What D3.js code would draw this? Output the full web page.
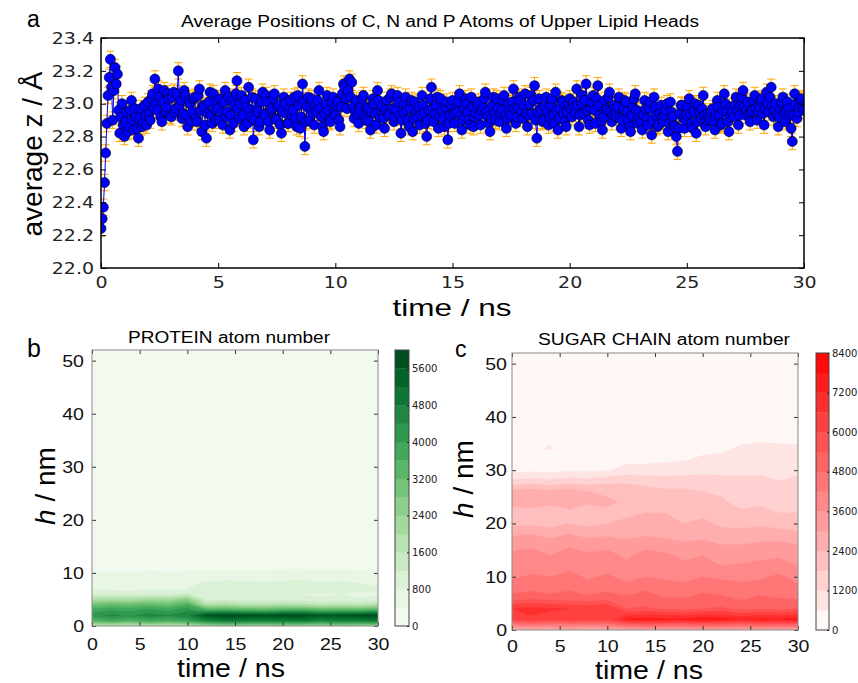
<!DOCTYPE html>
<html>
<head>
<meta charset="utf-8">
<script src="https://cdn.jsdelivr.net/npm/d3@7"></script>
<style>
  body { margin: 0; background: #fff; }
  svg { display: block; }
</style>
</head>
<body>
<svg id="fig" width="858" height="683"></svg>
<script>
// ---------- data ----------
// panel a: mean z of the head atoms, one sample every 0.05 ns (0 .. 30 ns), one row per ns
const sampleStep = 0.05;
const zMean = [
  22.24, 22.30, 22.37, 22.52, 22.70, 22.88, 23.05, 23.16, 23.27, 23.10, 22.90, 23.08, 23.22, 23.12, 23.18, 22.96, 22.82, 22.92, 23.00, 22.87,
  22.80, 22.89, 22.95, 22.83, 22.86, 22.96, 23.02, 22.90, 22.84, 22.97, 22.92, 22.85, 22.79, 22.91, 22.97, 22.86, 22.88, 22.99, 22.93, 22.87,
  23.01, 22.94, 22.90, 23.03, 23.06, 22.97, 23.15, 23.00, 22.96, 23.09, 23.04, 22.92, 22.89, 23.01, 23.08, 22.95, 22.98, 23.06, 23.03, 22.93,
  22.92, 23.04, 23.07, 22.95, 22.97, 23.06, 23.20, 22.99, 23.02, 22.91, 22.94, 23.08, 23.05, 22.93, 22.86, 23.02, 23.00, 22.89, 22.95, 23.03,
  23.04, 22.91, 22.89, 23.05, 23.09, 22.96, 22.83, 22.99, 22.98, 22.87, 22.79, 22.94, 23.01, 23.07, 22.93, 22.88, 23.06, 22.97, 22.90, 23.02,
  22.97, 22.90, 23.03, 22.95, 22.87, 23.01, 23.08, 22.92, 22.95, 23.04, 22.84, 22.93, 23.02, 22.88, 22.99, 23.06, 23.14, 22.97, 22.91, 23.00,
  23.05, 22.93, 22.86, 23.02, 22.98, 22.88, 23.10, 22.96, 22.92, 23.04, 22.78, 22.90, 23.03, 22.97, 22.95, 22.86, 22.89, 23.01, 23.07, 22.94,
  22.93, 23.05, 23.01, 22.89, 22.84, 22.96, 22.97, 23.03, 23.06, 22.91, 22.90, 22.98, 22.99, 22.87, 22.82, 22.95, 23.04, 23.00, 22.94, 22.88,
  22.88, 22.97, 23.02, 22.93, 22.96, 23.04, 22.91, 22.86, 23.05, 22.99, 22.85, 22.92, 23.12, 23.01, 22.74, 22.89, 22.98, 23.04, 22.90, 22.96,
  23.03, 22.94, 22.87, 22.99, 22.95, 23.02, 23.08, 22.97, 22.92, 22.86, 22.83, 22.94, 23.00, 23.05, 22.96, 22.90, 22.89, 23.01, 23.04, 22.95,
  22.93, 22.99, 23.01, 22.90, 22.86, 22.98, 23.06, 23.12, 23.10, 23.03, 22.97, 23.08, 23.15, 23.04, 23.13, 22.98, 22.91, 22.95, 23.02, 22.93,
  22.88, 22.96, 22.99, 23.03, 23.05, 22.92, 22.90, 22.98, 22.97, 22.89, 22.84, 22.95, 23.03, 23.00, 22.94, 22.87, 23.08, 23.02, 22.92, 22.96,
  22.98, 22.91, 22.85, 22.96, 23.02, 22.94, 22.93, 23.04, 23.06, 22.97, 22.89, 22.92, 22.96, 23.05, 23.01, 22.93, 22.82, 22.90, 22.95, 23.00,
  23.04, 22.96, 22.90, 22.86, 22.97, 23.02, 22.83, 22.91, 23.01, 22.95, 22.92, 22.98, 22.87, 22.93, 23.05, 22.99, 22.94, 22.88, 22.80, 22.90,
  22.96, 23.03, 23.10, 22.97, 22.89, 22.94, 22.99, 23.04, 22.85, 22.92, 23.03, 22.96, 22.91, 22.86, 22.98, 23.01, 22.78, 22.88, 22.93, 22.99,
  23.02, 22.94, 22.88, 22.97, 22.95, 23.01, 23.06, 22.93, 22.84, 22.90, 22.97, 23.03, 23.00, 22.95, 22.90, 22.87, 23.04, 22.98, 22.86, 22.92,
  22.94, 22.99, 23.01, 22.93, 22.87, 22.96, 22.98, 23.03, 23.07, 22.95, 22.92, 22.88, 22.83, 22.91, 22.99, 23.04, 22.95, 22.90, 23.03, 22.97,
  22.89, 22.94, 22.96, 23.02, 23.05, 22.93, 22.85, 22.91, 23.00, 22.96, 22.93, 23.01, 23.09, 22.97, 22.88, 22.92, 22.97, 23.04, 23.02, 22.95,
  22.91, 22.99, 23.06, 22.94, 22.86, 22.93, 23.00, 23.05, 22.94, 23.02, 23.11, 22.90, 22.79, 22.95, 23.03, 22.97, 22.96, 22.89, 22.90, 22.98,
  23.04, 22.95, 22.87, 22.92, 22.99, 23.03, 22.93, 22.88, 23.07, 22.96, 22.84, 22.91, 22.97, 23.02, 23.01, 22.94, 22.89, 22.86, 22.95, 23.00,
  23.03, 22.97, 22.92, 23.01, 22.98, 22.94, 23.09, 22.99, 22.86, 22.93, 23.00, 23.05, 22.94, 23.02, 23.12, 22.96, 22.90, 22.87, 22.97, 23.01,
  23.05, 22.96, 22.88, 23.03, 23.11, 22.99, 22.93, 22.89, 22.84, 22.92, 23.02, 22.97, 22.96, 23.04, 23.07, 22.95, 22.89, 22.93, 22.99, 22.94,
  22.92, 22.98, 23.04, 22.91, 22.85, 22.90, 22.97, 23.02, 23.01, 22.95, 22.90, 22.86, 22.83, 22.93, 22.98, 23.03, 23.06, 22.96, 22.88, 22.92,
  22.95, 22.89, 22.84, 22.93, 23.02, 22.97, 22.91, 22.87, 22.97, 23.01, 22.81, 22.90, 23.04, 22.98, 22.93, 22.86, 22.87, 22.94, 22.99, 22.92,
  22.89, 22.93, 22.96, 23.00, 22.83, 22.88, 23.01, 22.95, 22.92, 22.87, 22.86, 22.80, 22.71, 22.85, 22.94, 22.99, 22.99, 22.91, 22.85, 22.90,
  22.93, 22.98, 23.03, 22.94, 22.88, 22.85, 22.95, 23.00, 22.82, 22.89, 22.99, 22.95, 22.91, 22.97, 23.05, 22.93, 22.86, 22.90, 22.94, 22.92,
  22.90, 22.95, 22.97, 22.89, 22.84, 22.93, 23.02, 22.98, 22.93, 22.87, 22.88, 22.96, 23.06, 23.00, 22.95, 22.89, 22.83, 22.92, 22.98, 22.95,
  22.92, 22.99, 23.04, 22.96, 22.87, 22.93, 22.99, 23.04, 23.08, 22.98, 22.93, 22.96, 23.01, 22.94, 22.89, 22.95, 22.96, 23.02, 23.05, 22.97,
  22.90, 22.95, 22.98, 23.02, 23.03, 22.94, 22.87, 22.97, 23.07, 23.00, 22.95, 23.04, 23.10, 22.99, 22.92, 22.96, 23.00, 22.93, 22.86, 22.92,
  22.97, 23.01, 23.04, 22.95, 22.89, 22.96, 23.01, 22.97, 22.93, 22.85, 22.77, 22.93, 23.06, 23.00, 22.91, 22.95, 22.98, 23.02, 23.03, 22.99,
  22.96
];
const zErr = 0.05;
const zTicks = [22.0, 22.2, 22.4, 22.6, 22.8, 23.0, 23.2, 23.4];
const timeTicks = [0, 5, 10, 15, 20, 25, 30];
const hTicks = [0, 10, 20, 30, 40, 50];

// panel b: protein atom number, columns = time (ns), rows = h (nm)
const proteinTimes = [0, 2, 4, 6, 8, 10, 12, 14, 16, 18, 20, 22, 24, 26, 28, 30];
const proteinHeights = [0, 1, 2, 3, 4, 5, 6, 7, 8, 9, 10, 11, 12];
const proteinCounts = [
  [1500, 1600, 1500, 1700, 1600, 1700, 2200, 2400, 2300, 2200, 2400, 2300, 2200, 2400, 2300, 2200],
  [3400, 3700, 3500, 3800, 3600, 3900, 4600, 4900, 4800, 4700, 4800, 4900, 4600, 4800, 4700, 4900],
  [4200, 4500, 4300, 4600, 4400, 4700, 5700, 5900, 5800, 5700, 5900, 5800, 5600, 5700, 5800, 5900],
  [3800, 4000, 3900, 4100, 3900, 4300, 3600, 3700, 3500, 3400, 3600, 3700, 3400, 3500, 3400, 3600],
  [3000, 3200, 3100, 3300, 3100, 3600, 1900, 2000, 1800, 1700, 1900, 1800, 1600, 1700, 1600, 1800],
  [1900, 2100, 2000, 2200, 2100, 2600, 1000, 1100,  950,  950, 1000,  950,  850,  950,  850,  950],
  [1000, 1050,  950, 1100, 1000, 1300,  800,  900,  800,  850,  850,  800,  750,  800,  700,  750],
  [ 700,  720,  680,  750,  700,  800, 1000, 1100, 1050, 1000, 1050, 1000,  950, 1000,  900,  850],
  [ 600,  620,  580,  640,  600,  650,  900, 1000,  950,  900,  950, 1000,  850,  950,  800,  750],
  [ 520,  540,  500,  560,  520,  560,  600,  650,  620,  600,  650,  700,  620,  650,  600,  550],
  [ 440,  460,  430,  470,  440,  470,  480,  500,  480,  470,  520,  540,  500,  520,  480,  450],
  [ 250,  280,  260,  300,  270,  300,  300,  320,  300,  290,  330,  350,  320,  330,  300,  270],
  [   0,    0,    0,    0,    0,    0,    0,    0,    0,    0,    0,    0,    0,    0,    0,    0]
];
const proteinLevels = [0, 400, 800, 1200, 1600, 2000, 2400, 2800, 3200, 3600, 4000, 4400, 4800, 5200, 5600, 6000];
const proteinBarTicks = [0, 800, 1600, 2400, 3200, 4000, 4800, 5600];

// panel c: sugar chain atom number
const sugarTimes = [0, 2, 4, 6, 8, 10, 12, 14, 16, 18, 20, 22, 24, 26, 28, 30];
const sugarHeights = [0, 2, 4, 6, 8, 10, 12, 14, 16, 18, 20, 22, 24, 26, 28, 30, 32, 34, 36, 38, 40];
const sugarCounts = [
  [2400, 2600, 2500, 2700, 2500, 2600, 2800, 3000, 2900, 2800, 3000, 2900, 2800, 3000, 2900, 2800],
  [6200, 6500, 6300, 6400, 6200, 6300, 7300, 7500, 7400, 7300, 7600, 7500, 7200, 7400, 7300, 7600],
  [6600, 6800, 6700, 6600, 6500, 6600, 5400, 5500, 5300, 5200, 5400, 5500, 5200, 5300, 5200, 5400],
  [5000, 5200, 5100, 5000, 4900, 5100, 4900, 5000, 4800, 4800, 5000, 4900, 4700, 4900, 4800, 4700],
  [4500, 4600, 4400, 4700, 4500, 4600, 4400, 4700, 4500, 4400, 4600, 4500, 4400, 4500, 4600, 4300],
  [4100, 4300, 4200, 4400, 4100, 4300, 4000, 4200, 4100, 4000, 4200, 4100, 4000, 4100, 4300, 4000],
  [3800, 3900, 3700, 4000, 3800, 3900, 3700, 3900, 3800, 3700, 3800, 3600, 3700, 3800, 3900, 3600],
  [3700, 3800, 3600, 3900, 3700, 3800, 3500, 3800, 3700, 3500, 3600, 3400, 3300, 3400, 3500, 3300],
  [3400, 3500, 3300, 3500, 3300, 3400, 3200, 3400, 3300, 3100, 3200, 3000, 3000, 3100, 3200, 3000],
  [2900, 3000, 2800, 3000, 2800, 2900, 2800, 2900, 2800, 2700, 2800, 2600, 2600, 2700, 2600, 2500],
  [2200, 2300, 2100, 2400, 2200, 2400, 2500, 2600, 2500, 2400, 2500, 2300, 2200, 2300, 2200, 2100],
  [2000, 2100, 1900, 2200, 2000, 2300, 2300, 2400, 2400, 2300, 2300, 2100, 1900, 2000, 1800, 1800],
  [2700, 2800, 2600, 2800, 2500, 2500, 2300, 2200, 2200, 2100, 2100, 1900, 1600, 1700, 1500, 1600],
  [2600, 2700, 2500, 2700, 2400, 2300, 2100, 2000, 1900, 1900, 1800, 1700, 1500, 1500, 1400, 1500],
  [1300, 1400, 1300, 1500, 1400, 1600, 1700, 1600, 1500, 1500, 1500, 1400, 1300, 1300, 1200, 1300],
  [ 400,  450,  420,  500,  480,  550,  800,  800,  850,  900, 1000, 1000, 1100, 1100, 1000, 1100],
  [ 200,  250,  300,  250,  300,  350,  450,  450,  500,  550,  700,  750,  850,  900,  900,  850],
  [ 150,  500,  650,  200,  350,  600,  350,  300,  350,  400,  450,  500,  700,  750,  750,  700],
  [ 100,  400,  500,  150,  250,  450,  200,  200,  200,  250,  250,  300,  450,  500,  450,  450],
  [  50,  100,  100,   50,  100,  100,   50,   50,   50,  100,  100,  100,  150,  200,  150,  150],
  [   0,    0,    0,    0,    0,    0,    0,    0,    0,    0,    0,    0,    0,    0,    0,    0]
];
const sugarLevels = [0, 600, 1200, 1800, 2400, 3000, 3600, 4200, 4800, 5400, 6000, 6600, 7200, 7800, 8400];
const sugarBarTicks = [0, 1200, 2400, 3600, 4800, 6000, 7200, 8400];

// ---------- helpers ----------
const svg = d3.select("#fig");
const sansA = "'Liberation Sans', Arial, sans-serif";
const sansB = "'DejaVu Sans', sans-serif";
const hStretch = 1.15; // picture is a bit wider than tall

function stretch(sel, k = hStretch) {
  sel.each(function() {
    const w = this.getComputedTextLength();
    d3.select(this).attr("textLength", w * k).attr("lengthAdjust", "spacingAndGlyphs");
  });
}

function label(txt, x, y, size, opts = {}) {
  const t = svg.append("text")
    .attr("x", x).attr("y", y)
    .attr("font-family", opts.family || sansA)
    .attr("font-size", size)
    .attr("text-anchor", opts.anchor || "start")
    .text(txt);
  if (opts.len) t.attr("textLength", opts.len).attr("lengthAdjust", "spacingAndGlyphs");
  return t;
}

// d3.axis puts its own font on the group, so set it on the texts afterwards
function tickFont(g, family, size, color) {
  g.selectAll(".tick text")
    .attr("font-family", family)
    .attr("font-size", size)
    .attr("fill", color);
}

// ---------- panel a ----------
const A = { left: 101, right: 804, top: 38, bottom: 268 };
const xA = d3.scaleLinear().domain([0, 30]).range([A.left, A.right]);
const yA = d3.scaleLinear().domain([22.0, 23.4]).range([A.bottom, A.top]);
const pts = zMean.map((z, i) => ({ t: i * sampleStep, z }));

svg.append("clipPath").attr("id", "clipA").append("rect")
  .attr("x", A.left).attr("y", A.top)
  .attr("width", A.right - A.left).attr("height", A.bottom - A.top);

const gA = svg.append("g").attr("clip-path", "url(#clipA)");

gA.selectAll(".err").data(pts).join("path")
  .attr("class", "err")
  .attr("d", d => {
    const x = xA(d.t), y0 = yA(d.z - zErr), y1 = yA(d.z + zErr);
    return `M${x},${y0}V${y1}M${x - 4},${y0}h8M${x - 4},${y1}h8`;
  })
  .attr("fill", "none")
  .attr("stroke", "#FFA500")
  .attr("stroke-width", 1);

gA.append("path").datum(pts)
  .attr("d", d3.line().x(d => xA(d.t)).y(d => yA(d.z)))
  .attr("fill", "none")
  .attr("stroke", "#0000ff")
  .attr("stroke-width", 1);

gA.selectAll(".dot").data(pts).join("circle")
  .attr("class", "dot")
  .attr("cx", d => xA(d.t))
  .attr("cy", d => yA(d.z))
  .attr("r", 5)
  .attr("fill", "#0000ff")
  .attr("stroke", "#000")
  .attr("stroke-width", 0.6);

// axes, ticks inside on all four sides
const axA = svg.append("g").attr("color", "#000");
axA.append("g").attr("transform", `translate(0,${A.bottom})`)
  .call(d3.axisBottom(xA).tickValues(timeTicks).tickSize(-5).tickPadding(8).tickFormat(d3.format("d")));
axA.append("g").attr("transform", `translate(0,${A.top})`)
  .call(d3.axisTop(xA).tickValues(timeTicks).tickSize(-5).tickFormat(""));
axA.append("g").attr("transform", `translate(${A.left},0)`)
  .call(d3.axisLeft(yA).tickValues(zTicks).tickSize(-5).tickPadding(7).tickFormat(d3.format(".1f")));
axA.append("g").attr("transform", `translate(${A.right},0)`)
  .call(d3.axisRight(yA).tickValues(zTicks).tickSize(-5).tickFormat(""));
axA.selectAll(".domain").remove();
tickFont(axA, sansB, 16.5, "#222");
axA.selectAll(".tick text").call(stretch);

svg.append("rect")
  .attr("x", A.left).attr("y", A.top)
  .attr("width", A.right - A.left).attr("height", A.bottom - A.top)
  .attr("fill", "none").attr("stroke", "#000").attr("stroke-width", 1.5);

label("a", 27, 27, 23);
label("Average Positions of C, N and P Atoms of Upper Lipid Heads", 440, 27, 16, { anchor: "middle", len: 518 });
label("time / ns", 452, 316, 24, { anchor: "middle", len: 119 });
label("average z / Å", 0, 0, 28, { anchor: "middle" })
  .attr("transform", "translate(42,154) rotate(-90)");

// ---------- panels b and c ----------
function drawHeat(o) {
  const x = d3.scaleLinear().domain([0, 30]).range([o.left, o.right]);
  const y = d3.scaleLinear().domain([0, 52]).range([o.bottom, o.top]);
  const dt = o.times[1] - o.times[0];
  const dh = o.heights[1] - o.heights[0];
  const nCols = o.times.length;
  const nRows = Math.floor(52 / dh) + 2;

  // rows above the listed heights hold no atoms
  const grid = [];
  for (let r = 0; r < nRows; r++) {
    for (let c = 0; c < nCols; c++) grid.push(r < o.counts.length ? o.counts[r][c] : 0);
  }

  const nBands = o.levels.length - 1;
  const bandColor = i => o.cmap((i + 0.5) / nBands);

  const clipId = "clip" + o.key;
  svg.append("clipPath").attr("id", clipId).append("rect")
    .attr("x", o.left).attr("y", o.top)
    .attr("width", o.right - o.left).attr("height", o.bottom - o.top);

  const g = svg.append("g").attr("clip-path", `url(#${clipId})`);
  g.append("rect")
    .attr("x", o.left).attr("y", o.top)
    .attr("width", o.right - o.left).attr("height", o.bottom - o.top)
    .attr("fill", bandColor(0));

  const toPlot = d3.geoTransform({
    point: function(cx, cy) {
      this.stream.point(x(o.times[0] + (cx - 0.5) * dt), y(o.heights[0] + (cy - 0.5) * dh));
    }
  });
  const contours = d3.contours().size([nCols, nRows]).thresholds(o.levels.slice(1, -1))(grid);
  g.selectAll("path").data(contours).join("path")
    .attr("d", d3.geoPath(toPlot))
    .attr("fill", (d, i) => bandColor(i + 1))
    .attr("stroke", (d, i) => bandColor(i + 1))
    .attr("stroke-width", 0.3);

  // axes
  const ax = svg.append("g").attr("color", "#333");
  ax.append("g").attr("transform", `translate(0,${o.bottom})`)
    .call(d3.axisBottom(x).tickValues(timeTicks).tickSize(-4).tickPadding(o.xPad));
  ax.append("g").attr("transform", `translate(0,${o.top})`)
    .call(d3.axisTop(x).tickValues(timeTicks).tickSize(-4).tickFormat(""));
  ax.append("g").attr("transform", `translate(${o.left},0)`)
    .call(d3.axisLeft(y).tickValues(hTicks).tickSize(-4).tickPadding(o.yPad));
  ax.append("g").attr("transform", `translate(${o.right},0)`)
    .call(d3.axisRight(y).tickValues(hTicks).tickSize(-4).tickFormat(""));
  ax.selectAll(".domain").remove();
  tickFont(ax, sansA, 17, "#111");
  ax.selectAll(".tick text").call(stretch);

  svg.append("rect")
    .attr("x", o.left).attr("y", o.top)
    .attr("width", o.right - o.left).attr("height", o.bottom - o.top)
    .attr("fill", "none").attr("stroke", "#8a8a8a").attr("stroke-width", 1);

  // colour bar
  const cb = d3.scaleLinear().domain([o.levels[0], o.levels[nBands]]).range([o.bottom, o.top]);
  svg.append("g").selectAll("rect").data(d3.range(nBands)).join("rect")
    .attr("x", o.cbLeft)
    .attr("y", i => cb(o.levels[i + 1]))
    .attr("width", o.cbRight - o.cbLeft)
    .attr("height", i => cb(o.levels[i]) - cb(o.levels[i + 1]) + 0.3)
    .attr("fill", i => bandColor(i));
  svg.append("rect")
    .attr("x", o.cbLeft).attr("y", o.top)
    .attr("width", o.cbRight - o.cbLeft).attr("height", o.bottom - o.top)
    .attr("fill", "none").attr("stroke", "#444").attr("stroke-width", 1);
  const cbAx = svg.append("g").attr("transform", `translate(${o.cbRight},0)`)
    .attr("color", "#222")
    .call(d3.axisRight(cb).tickValues(o.barTicks).tickSize(-2).tickPadding(3).tickFormat(d3.format("d")));
  cbAx.select(".domain").remove();
  tickFont(cbAx, sansB, 10, "#222");

  // labels
  label(o.letter, o.letterX, 357, o.letterSize);
  label(o.title, o.titleX, o.titleY, 16, { anchor: "middle", len: o.titleLen });
  label("time / ns", o.xLabelX, o.xLabelY, 25, { anchor: "middle", len: 108 });
  const yl = svg.append("text")
    .attr("transform", `translate(${o.yLabelX},${o.yLabelY}) rotate(-90)`)
    .attr("font-family", sansA).attr("font-size", 28).attr("text-anchor", "middle");
  yl.append("tspan").attr("font-style", "italic").text("h");
  yl.append("tspan").text(" / nm");
}

drawHeat({
  key: "B", left: 92, right: 378, top: 350, bottom: 626,
  cbLeft: 395, cbRight: 409,
  times: proteinTimes, heights: proteinHeights, counts: proteinCounts,
  levels: proteinLevels, barTicks: proteinBarTicks,
  cmap: d3.interpolateGreens,
  xPad: 12, yPad: 8,
  letter: "b", letterX: 27, letterSize: 25,
  title: "PROTEIN atom number", titleX: 229, titleY: 343, titleLen: 202,
  xLabelX: 231, xLabelY: 677, yLabelX: 55, yLabelY: 486
});

drawHeat({
  key: "C", left: 512, right: 798, top: 353, bottom: 630,
  cbLeft: 816, cbRight: 829,
  times: sugarTimes, heights: sugarHeights, counts: sugarCounts,
  levels: sugarLevels, barTicks: sugarBarTicks,
  cmap: d3.interpolateRgb("#ffffff", "#ff0000"),
  xPad: 10, yPad: 5,
  letter: "c", letterX: 455, letterSize: 23,
  title: "SUGAR CHAIN atom number", titleX: 664, titleY: 345, titleLen: 252,
  xLabelX: 649, xLabelY: 679, yLabelX: 473, yLabelY: 479
});
</script>
</body>
</html>
